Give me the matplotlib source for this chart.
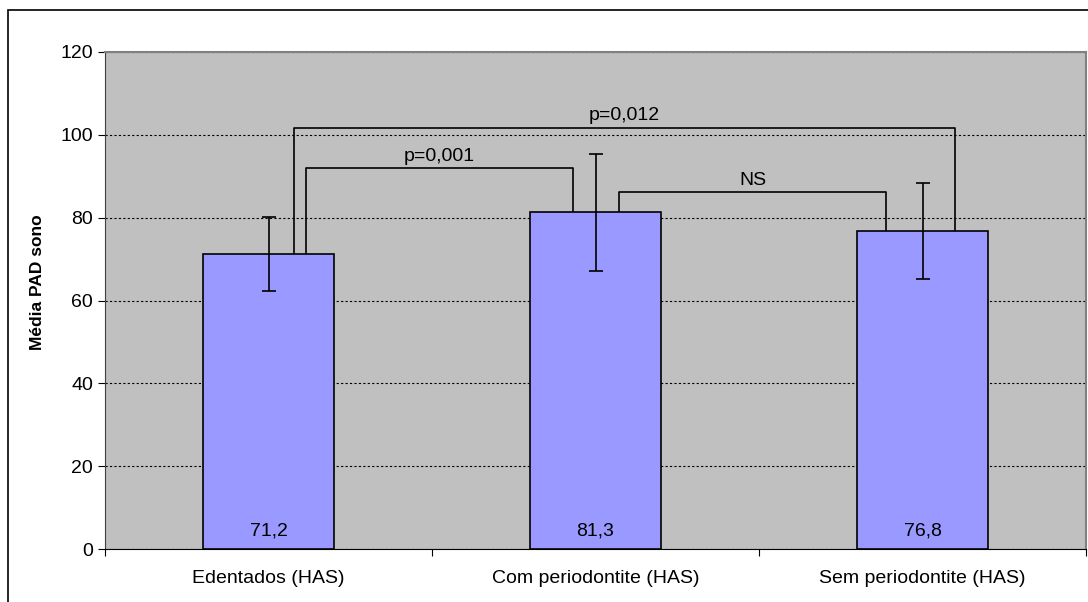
import matplotlib.pyplot as plt
import numpy as np

plt.rcParams['font.family'] = ['Liberation Sans', 'DejaVu Sans']

# Mean nocturnal diastolic pressure per group
groups = ['Edentados (HAS)', 'Com periodontite (HAS)', 'Sem periodontite (HAS)']
means = [71.2, 81.3, 76.8]
sds = [9.0, 14.1, 11.6]
value_labels = ['71,2', '81,3', '76,8']

# Pairwise comparisons: (left group, right group, bracket height, text)
comparisons = [
    (0, 2, 101.6, 'p=0,012'),
    (0, 1, 91.9, 'p=0,001'),
    (1, 2, 86.1, 'NS'),
]
# horizontal offsets of the bracket legs from the bar centres
leg_offsets = [(0.078, 0.10), (0.115, -0.069), (0.073, -0.111)]

y_ticks = [0, 20, 40, 60, 80, 100, 120]

fs = 14

fig = plt.figure(figsize=(10.88, 6.02), dpi=100)
ax = fig.add_axes([105 / 1088, 53 / 602, 981 / 1088, 497 / 602])
ax.set_facecolor('#c0c0c0')

x = np.arange(len(groups))
ax.bar(x, means, width=0.4, color='#9999ff', edgecolor='black', linewidth=1.2, zorder=3)
ax.errorbar(x, means, yerr=sds, fmt='none', ecolor='black', elinewidth=1.2,
            capsize=5, capthick=1.2, zorder=4)

for xi, lab in zip(x, value_labels):
    ax.text(xi, 4.3, lab, ha='center', va='center', fontsize=fs, zorder=5)

for (i, j, h, txt), (oi, oj) in zip(comparisons, leg_offsets):
    xl, xr = i + oi, j + oj
    ax.plot([xl, xl, xr, xr], [means[i], h, h, means[j]], color='black', lw=1.2, zorder=2)
    ax.text((xl + xr) / 2, h + 0.9, txt, ha='center', va='bottom', fontsize=fs, zorder=5)

ax.set_xlim(-0.5, 2.5)
ax.set_ylim(0, 120)
ax.set_yticks(y_ticks)
ax.yaxis.grid(True, linestyle=(0, (2, 2)), color='black', linewidth=0.8, zorder=1)
ax.set_axisbelow(True)

# category boundaries as x ticks, labels centred under bars
ax.set_xticks([-0.5, 0.5, 1.5, 2.5])
ax.set_xticklabels([])
ax.set_xticks(x, minor=True)
ax.set_xticklabels(groups, minor=True, fontsize=fs)
ax.tick_params(axis='x', which='minor', length=0, pad=15)
ax.tick_params(axis='x', which='major', length=5, color='black')
ax.tick_params(axis='y', length=5, labelsize=fs)

ax.set_ylabel('Média PAD sono', fontsize=12.5, fontweight='bold')
ax.yaxis.set_label_coords(-0.061, 0.537)

for side in ['top', 'right']:
    ax.spines[side].set_color('#808080')
    ax.spines[side].set_linewidth(1.5)
ax.spines['left'].set_color('#404040')
ax.spines['bottom'].set_color('black')

# frame around the whole chart
fig.patches.append(plt.Rectangle((8 / 1088, -0.1), 1.2, 1 - 10 / 602 + 0.1,
                                 transform=fig.transFigure, fill=False,
                                 edgecolor='black', linewidth=1.2))

fig.savefig('out.png', dpi=100)
